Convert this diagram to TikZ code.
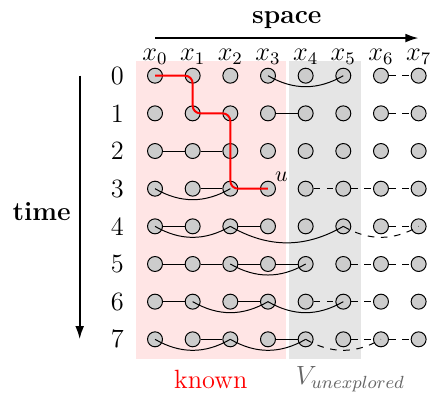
\documentclass[tikz,border=0pt]{standalone}
\usetikzlibrary{arrows.meta}
\begin{document}
\begin{tikzpicture}[x=17.12pt,y=17.12pt,
  vtx/.style={circle,draw,fill=black!20,inner sep=0pt,minimum size=6.8pt,line width=0.45pt},
  sedge/.style={line width=0.45pt},
  dedge/.style={line width=0.45pt,dashed},
  axis/.style={line width=0.9pt,-{Latex[length=6pt,width=4pt]}},
  walk/.style={red,line width=0.9pt,rounded corners=3.5pt}]
\useasboundingbox (-4.116,-8.452) rectangle (7.355,2.010);
\fill[red!10] (-0.5,0.39) rectangle (3.47,-7.53);
\fill[black!10] (3.56,0.39) rectangle (5.47,-7.53);
\foreach \j in {0,...,7} {
  \node[font=\large] (r\j) at (-1,-\j) {\j};
  \foreach \i in {0,...,7} \node[vtx] (n\i\j) at (\i,-\j) {};
}
\foreach \i in {0,...,7} \node[anchor=base,font=\large,inner sep=0pt] (lx\i) at (\i,0.40) {$x_\i$};
% straight solid edges a/row/b
\foreach \a/\r/\b in {0/0/1, 1/1/2, 3/1/4, 0/2/1, 1/2/2, 1/3/2, 2/3/3, 0/4/1, 2/4/3,
  0/5/1, 1/5/2, 2/5/3, 3/5/4, 0/6/1, 2/6/3, 1/7/2, 3/7/4}
  \draw[sedge] (n\a\r) -- (n\b\r);
% straight dashed edges
\foreach \a/\r/\b in {6/0/7, 6/1/7, 4/3/5, 5/3/6, 6/3/7, 6/4/7, 5/5/6, 6/5/7,
  4/6/5, 5/6/6, 5/7/6, 6/7/7}
  \draw[dedge] (n\a\r) -- (n\b\r);
% curved solid edges
\foreach \a/\r/\b in {3/0/5, 0/3/2, 0/4/2, 2/4/5, 2/5/4, 1/6/3, 3/6/5, 0/7/2, 2/7/4}
  \draw[sedge] (n\a\r.center) to[bend right=30] (n\b\r.center);
% curved dashed edges
\foreach \a/\r/\b in {5/4/7, 4/7/6}
  \draw[dedge] (n\a\r.center) to[bend right=30] (n\b\r.center);
% walk
\draw[walk] (n00.center) -- (n10.center) -- (n11.center) -- (n21.center) -- (n23.center) -- (n33.center);
\node[anchor=south west,inner sep=0.5pt] (u) at (n33.north east) {$u$};
% axes
\coordinate (s0) at (0,1);
\coordinate (s1) at (7,1);
\draw[axis] (s0) -- (s1);
\node[anchor=base,font=\large\bfseries] (space) at (3.5,1.39) {space};
\coordinate (t0) at (-2,0);
\coordinate (t1) at (-2,-7);
\draw[axis] (t0) -- (t1);
\node[font=\large\bfseries] (time) at (-3.01,-3.61) {time};
\node[font=\large,text=red] (known) at (1.48,-8.06) {known};
\node[font=\large,text=black!60] (unexp) at (5.19,-8.06) {$V_{unexplored}$};
\end{tikzpicture}
\end{document}
